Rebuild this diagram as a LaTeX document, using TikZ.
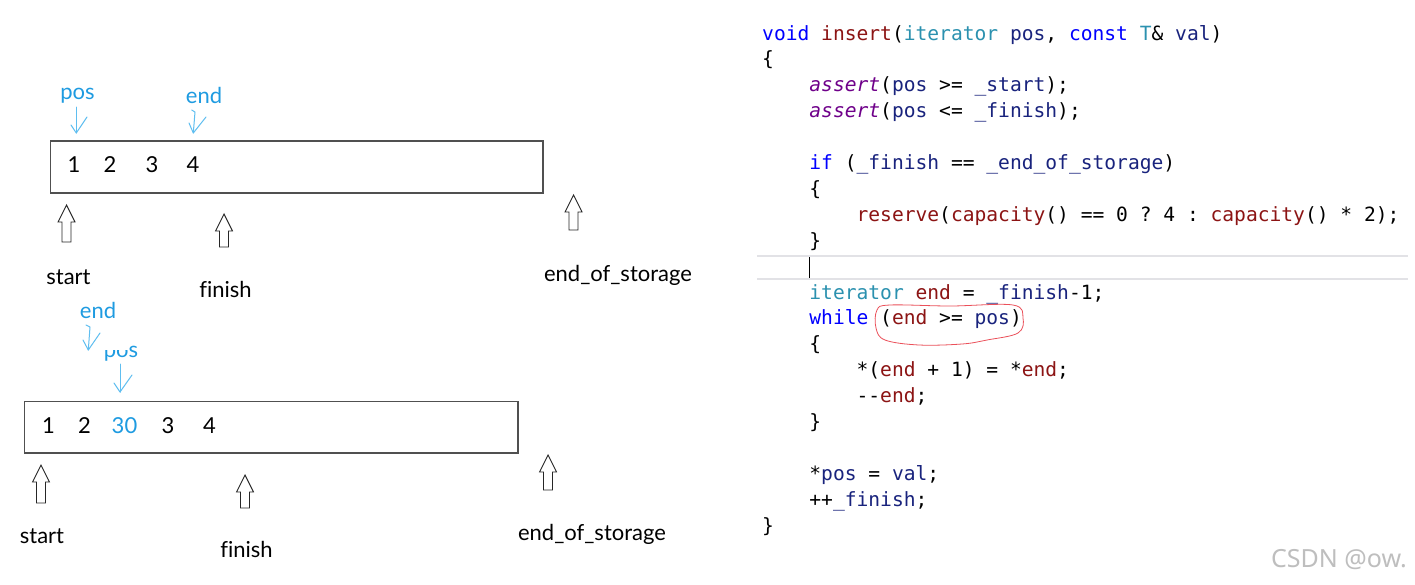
\documentclass[tikz,border=0pt]{standalone}
\usepackage{fontspec}
\setmainfont{Lato}[Ligatures={NoCommon}]
\setmonofont{DejaVu Sans Mono}
\newfontfamily\wmfont{Noto Sans}
\usetikzlibrary{arrows.meta}
\definecolor{kwblue}{RGB}{0,0,255}
\definecolor{fnred}{RGB}{140,20,20}
\definecolor{tyteal}{RGB}{43,145,175}
\definecolor{parnavy}{RGB}{25,35,125}
\definecolor{macpurple}{RGB}{111,0,138}
\definecolor{lblblue}{RGB}{30,155,225}
\definecolor{penblue}{RGB}{95,190,240}
\definecolor{boxgray}{RGB}{80,80,80}
\definecolor{hlgray}{RGB}{226,226,230}
\definecolor{loopred}{RGB}{235,80,90}
\definecolor{wmgray}{RGB}{190,190,190}
\newcommand\ckw[1]{\textcolor{kwblue}{#1}}
\newcommand\cfn[1]{\textcolor{fnred}{#1}}
\newcommand\cty[1]{\textcolor{tyteal}{#1}}
\newcommand\cpar[1]{\textcolor{parnavy}{#1}}
\newcommand\cmac[1]{\textcolor{macpurple}{\itshape #1}}
\newcommand\hollowup[3]{\draw[hollow] (#1-4.5,#3) -- (#1-4.5,#2+17) -- (#1-8.5,#2+17) -- (#1,#2) -- (#1+8.5,#2+17) -- (#1+4.5,#2+17) -- (#1+4.5,#3) -- cycle;}
\begin{document}
\begin{tikzpicture}[x=1pt,y=-1pt,
  lbl/.style={font=\fontsize{22}{26}\selectfont, inner sep=0, anchor=base},
  bluelbl/.style={lbl, text=lblblue},
  code/.style={font=\ttfamily\fontsize{19.6}{24}\selectfont, inner sep=0, anchor=base west},
  cell/.style={draw=boxgray, line width=1.1},
  hollow/.style={draw=black!85, line width=0.9, fill=white, line join=miter},
  bluepen/.style={draw=penblue, line width=1, line cap=round, line join=round},
  redloop/.style={draw=loopred, line width=0.8},
  hl/.style={draw=hlgray, line width=1.6}]
\fill[white] (0,0) rectangle (1415,584);
\useasboundingbox (0,0) rectangle (1415,584);

% ---------- upper diagram ----------
\node[cell, minimum width=492.4, minimum height=52, inner sep=0] (box1) at (296.8,167) {};
\node[lbl] (a1) at (74,172) {1};
\node[lbl] (a2) at (110,172) {2};
\node[lbl] (a3) at (152,172) {3};
\node[lbl] (a4) at (193,172) {4};

\node[bluelbl] (pos1) at (77.5,99) {pos};
\node[bluelbl] (end1) at (204,103) {end};
\coordinate (pos1tip) at (76.3,133);
\coordinate (end1tip) at (193.3,133);
\draw[bluepen] (76.3,107) -- (pos1tip);
\draw[bluepen] (71,125) -- (pos1tip) -- (87,117);
\draw[bluepen] (191.7,110) -- (195,112) -- (end1tip);
\draw[bluepen] (189,123) -- (end1tip) -- (206,117);

\hollowup{66.5}{205}{242}
\hollowup{224}{214}{247}
\hollowup{573.5}{195}{230}

\node[lbl] (start1) at (68.5,284) {start};
\node[lbl] (finish1) at (225.5,297) {finish};
\node[lbl] (eos1) at (618,281) {end\_of\_storage};

% ---------- lower diagram ----------
\node[cell, minimum width=493.7, minimum height=51.3, inner sep=0] (box2) at (271.15,427.35) {};
\node[lbl] (b1) at (48.5,433) {1};
\node[lbl] (b2) at (84.5,433) {2};
\node[bluelbl] (b30) at (124.5,433) {30};
\node[lbl] (b3) at (168,433) {3};
\node[lbl] (b4) at (209.5,433) {4};

\node[bluelbl] (end2) at (98,318) {end};
\node[bluelbl] (pos2) at (121,357) {pos};
\fill[white] (103,333) rectangle (127.5,349.5);
\coordinate (end2tip) at (88.3,350);
\coordinate (pos2tip) at (120,392);
\draw[bluepen] (86,325) -- (90,327) -- (end2tip);
\draw[bluepen] (83,340) -- (end2tip) -- (100,333);
\draw[bluepen] (120,364) -- (pos2tip);
\draw[bluepen] (114,383) -- (pos2tip) -- (132,375);

\hollowup{41}{465}{503}
\hollowup{245}{475}{508}
\hollowup{548}{455}{490}

\node[lbl] (start2) at (42,543) {start};
\node[lbl] (finish2) at (246.5,557) {finish};
\node[lbl] (eos2) at (592,540) {end\_of\_storage};

% ---------- code ----------
\draw[hl] (757,256) -- (1408,256);
\draw[hl] (757,279) -- (1408,279);
\draw[black, line width=0.8] (809.5,257) -- (809.5,278);

\node[code] (l0) at (762,40) {\ckw{void} \cfn{insert}(\cty{iterator} \cpar{pos}, \ckw{const} \cty{T}\& \cpar{val})};
\node[code] (l1) at (762,65.9) {\{};
\node[code] (l2) at (809.2,91.8) {\cmac{assert}(\cpar{pos} >= \cpar{\_start});};
\node[code] (l3) at (809.2,117.7) {\cmac{assert}(\cpar{pos} <= \cpar{\_finish});};
\node[code] (l5) at (809.2,169.5) {\ckw{if} (\cpar{\_finish} == \cpar{\_end\_of\_storage})};
\node[code] (l6) at (809.2,195.4) {\{};
\node[code] (l7) at (856.4,221.3) {\cfn{reserve}(\cfn{capacity}() == 0 ? 4 : \cfn{capacity}() * 2);};
\node[code] (l8) at (809.2,247.2) {\}};
\node[code] (l10) at (809.2,299) {\cty{iterator} \cfn{end} = \cpar{\_finish}-1;};
\node[code] (l11) at (809.2,324.9) {\ckw{while} (\cfn{end} >= \cpar{pos})};
\node[code] (l12) at (809.2,350.8) {\{};
\node[code] (l13) at (856.4,376.7) {*(\cfn{end} + 1) = *\cfn{end};};
\node[code] (l14) at (856.4,402.6) {--\cfn{end};};
\node[code] (l15) at (809.2,428.5) {\}};
\node[code] (l17) at (809.2,480.3) {*\cpar{pos} = \cpar{val};};
\node[code] (l18) at (809.2,506.2) {++\cpar{\_finish};};
\node[code] (l19) at (762,532.1) {\}};

\draw[redloop] plot[smooth cycle, tension=0.6] coordinates {(877,310) (890,305) (950,306) (1013,305) (1023,318) (1018,333) (987,340) (962,344) (919,345) (885,340) (876,328)};

\node[font=\wmfont\fontsize{25}{30}\selectfont, text=wmgray, inner sep=0, anchor=base] (wm) at (1339,567) {CSDN @ow.};
\end{tikzpicture}
\end{document}
